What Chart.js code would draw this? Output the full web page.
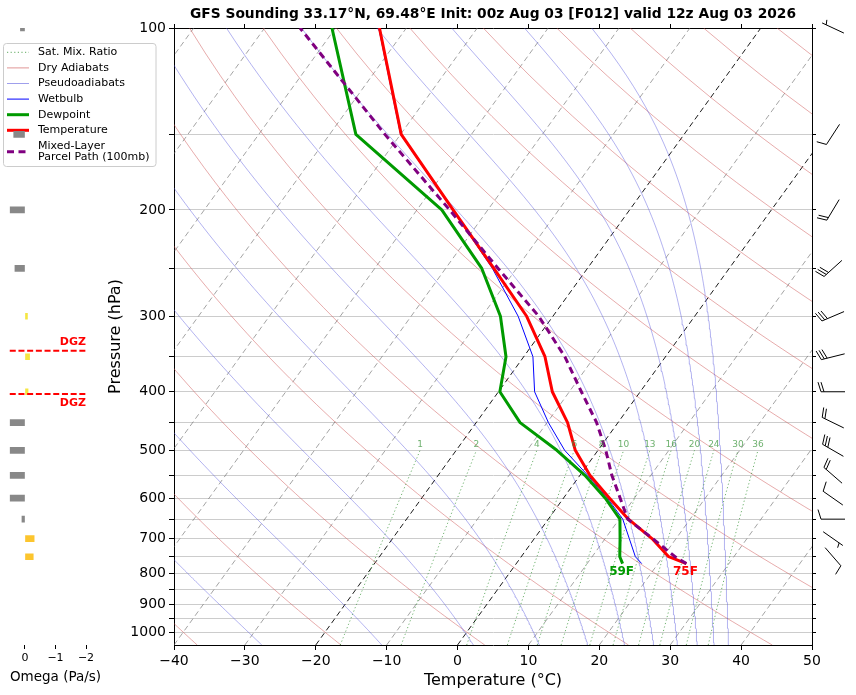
<!DOCTYPE html>
<html>
<head>
<meta charset="utf-8">
<script src="https://cdn.jsdelivr.net/npm/chart.js@4.4.1/dist/chart.umd.min.js"></script>
<style>
html, body { margin: 0; padding: 0; background: #fff; }
#wrap { position: relative; width: 856px; height: 695px; }
#skew, #omega { position: absolute; left: 0; top: 0; }
</style>
</head>
<body>
<div id="wrap">
<canvas id="skew" width="856" height="695"></canvas>
<canvas id="omega" width="110" height="695"></canvas>
</div>
<script>
Chart.defaults.font.family = 'DejaVu Sans';
Chart.defaults.color = '#000';

// sounding, surface first (hPa / degC)
const levels = [770, 750, 700, 650, 600, 550, 500, 450, 400, 350, 300, 250, 200, 150, 100];
const temperature = [24.0, 20.8, 16.6, 11.3, 6.5, 1.4, -3.2, -7.1, -12.4, -17.0, -23.7, -33.2, -44.9, -59.9, -73.8];
const dewpoint = [15.0, 13.9, 12.1, 10.1, 5.9, 0.7, -5.8, -13.8, -19.8, -22.5, -27.4, -34.9, -46.5, -66.3, -80.5];
const wetbulb = [17.7, 16.1, 13.4, 10.5, 6.2, 1.1, -4.7, -9.8, -14.9, -18.7, -24.9, -33.4, -45.0, -60.0, -73.9];
const parcelPath = [24.0, 21.7, 16.7, 11.2, 8.0, 4.5, 1.1, -3.0, -8.3, -14.2, -22.0, -32.6, -45.4, -62.2, -85.0];

// omega panel (Pa/s)
const omegaLevels = [100, 150, 200, 250, 300, 350, 400, 450, 500, 550, 600, 650, 700, 750];
const omega = [0.15, 0.37, 0.5, 0.33, -0.08, -0.15, -0.1, 0.5, 0.5, 0.5, 0.5, 0.1, -0.3, -0.27];

// wind barbs (deg from, knots)
const windLevels = [100, 150, 200, 250, 300, 350, 400, 450, 500, 550, 600, 650, 700, 750];
const windDir = [295, 213, 211, 228, 247, 256, 270, 296, 300, 311, 305, 270, 125, 139];
const windSpeed = [5, 10, 20, 30, 30, 30, 20, 20, 30, 20, 10, 10, 5, 10];

// background line families
const isotherms = [-100, -90, -80, -70, -60, -50, -40, -30, -20, -10, 0, 10, 20, 30, 40, 50];
const dryThetas = [-40, -20, 0, 20, 40, 60, 80, 100, 120, 140, 160, 180, 200, 220, 240];
const pseudoThetaE = [-30, -10, 10, 30, 50, 70, 90, 110, 130, 150, 170];
const mixingRatios = [1, 2, 4, 6, 8, 10, 13, 16, 20, 24, 30, 36];

const tempTicks = [-40, -30, -20, -10, 0, 10, 20, 30, 40, 50];
const pressureTicks = [100, 150, 200, 250, 300, 350, 400, 450, 500, 550, 600, 650, 700, 750, 800, 850, 900, 950, 1000];
const omegaTicks = [0, -1, -2];
const dgzTemps = [-18, -12];
const titleText = 'GFS Sounding 33.17°N, 69.48°E Init: 00z Aug 03 [F012] valid 12z Aug 03 2026';

const P_BOT = 1050, P_TOP = 100, SKEW = 26.7;
const skewX = (t, p) => t + SKEW * Math.log(P_BOT / p);

const GREEN = '#009a00', MIX_COLOR = 'rgba(40,140,40,0.75)';
const DRY_COLOR = 'rgba(205,80,80,0.6)', MOIST_COLOR = 'rgba(80,80,220,0.55)';

const pGrid = [];
for (let p = P_BOT; p >= P_TOP; p -= 10) pGrid.push(p);

// thermodynamics for the adiabats
const Rd = 287.04749, Cp = 1004.6662, Lv = 2.50084e6, EPS = 0.621957;
const satVap = tc => 6.112 * Math.exp(17.67 * tc / (tc + 243.5));
function lapse(p, tk) {
    const es = satVap(tk - 273.15);
    const rs = EPS * es / (p - es);
    return (Rd * tk + Lv * rs) / (Cp + Lv * Lv * rs * EPS / (Rd * tk * tk)) / p;
}
function thetaE1000(tc) {
    const tk = tc + 273.15, es = satVap(tc);
    const r = EPS * es / (1000 - es);
    return tk * Math.exp((3376 / tk - 2.54) * r * (1 + 0.81 * r));
}
function startTemp(thetaEc) {
    const target = thetaEc + 273.15;
    let lo = -90, hi = 60;
    for (let i = 0; i < 60; i++) {
        const mid = (lo + hi) / 2;
        if (thetaE1000(mid) < target) lo = mid; else hi = mid;
    }
    return (lo + hi) / 2;
}
function integrate(t0, pEnd, step) {
    const out = [];
    let p = 1000, tk = t0 + 273.15;
    const n = Math.round((pEnd - 1000) / step);
    for (let i = 0; i < n; i++) {
        const k1 = lapse(p, tk);
        const k2 = lapse(p + step / 2, tk + step / 2 * k1);
        const k3 = lapse(p + step / 2, tk + step / 2 * k2);
        const k4 = lapse(p + step, tk + step * k3);
        tk += step / 6 * (k1 + 2 * k2 + 2 * k3 + k4);
        p += step;
        out.push({ p, t: tk - 273.15 });
    }
    return out;
}
function moistAdiabat(thetaEc) {
    const t0 = startTemp(thetaEc);
    const pts = integrate(t0, P_BOT, 5).reverse();
    pts.push({ p: 1000, t: t0 });
    return pts.concat(integrate(t0, P_TOP, -5)).map(d => ({ x: skewX(d.t, d.p), y: d.p }));
}
function dryAdiabat(t0) {
    return pGrid.map(p => ({ x: skewX((t0 + 273.15) * Math.pow(p / 1000, 0.2857) - 273.15, p), y: p }));
}
function mixingLine(w) {
    const pts = [];
    for (let p = P_BOT; p >= 500; p -= 10) {
        const e = p * (w / 1000) / (0.622 + w / 1000);
        const l = Math.log(e / 6.112);
        pts.push({ x: skewX(243.5 * l / (17.67 - l), p), y: p });
    }
    return pts;
}
const profile = temps => levels.map((p, i) => ({ x: skewX(temps[i], p), y: p }));

function line(data, color, width, dash, order) {
    return {
        data, borderColor: color, borderWidth: width, borderDash: dash || [],
        pointRadius: 0, showLine: true, fill: false, tension: 0, order,
        xAxisID: 'x', yAxisID: 'y', borderJoinStyle: 'round'
    };
}

const datasets = [];
isotherms.forEach(t => {
    const black = t === 0 || t === -20;
    datasets.push(line([{ x: skewX(t, P_BOT), y: P_BOT }, { x: skewX(t, P_TOP), y: P_TOP }],
        black ? '#000' : 'rgba(110,110,110,0.7)', 0.9, [5.5, 3.5], 9));
});
dryThetas.forEach(t => datasets.push(line(dryAdiabat(t), DRY_COLOR, 0.8, [], 8)));
pseudoThetaE.forEach(t => datasets.push(line(moistAdiabat(t), MOIST_COLOR, 0.8, [], 7)));
mixingRatios.forEach(w => datasets.push(line(mixingLine(w), MIX_COLOR, 0.9, [1.2, 2.4], 6)));
datasets.push(line(profile(wetbulb), '#0000ff', 1, [], 3));
datasets.push(line(profile(dewpoint), GREEN, 3, [], 2));
datasets.push(line(profile(temperature), '#ff0000', 3, [], 1));
datasets.push(line(profile(parcelPath), '#800080', 3, [7, 4.5], 0));

const legendItems = [
    { label: ['Sat. Mix. Ratio'], color: MIX_COLOR, width: 1, dash: [1.2, 2.4] },
    { label: ['Dry Adiabats'], color: DRY_COLOR, width: 1, dash: [] },
    { label: ['Pseudoadiabats'], color: MOIST_COLOR, width: 1, dash: [] },
    { label: ['Wetbulb'], color: '#0000ff', width: 1, dash: [] },
    { label: ['Dewpoint'], color: GREEN, width: 3, dash: [] },
    { label: ['Temperature'], color: '#ff0000', width: 3, dash: [] },
    { label: ['Mixed-Layer', 'Parcel Path (100mb)'], color: '#800080', width: 3, dash: [7, 4.5] }
];

function drawBarb(ctx, cx, cy, dir, spd, L) {
    const r = dir * Math.PI / 180;
    const dx = Math.sin(r), dy = -Math.cos(r);
    const nx = -dy, ny = dx;
    const sx = cx - dx * L / 2, sy = cy - dy * L / 2;
    const sp = 0.125 * L, fh = 0.4 * L, fw = 0.25 * L;
    ctx.beginPath();
    ctx.moveTo(sx, sy);
    ctx.lineTo(sx + dx * L, sy + dy * L);
    let off = L;
    const full = Math.floor(spd / 10), half = spd % 10 >= 5;
    for (let i = 0; i < full; i++) {
        const px = sx + dx * off, py = sy + dy * off;
        ctx.moveTo(px, py);
        ctx.lineTo(px + nx * fh + dx * fw / 2, py + ny * fh + dy * fw / 2);
        off -= sp;
    }
    if (half) {
        if (off === L) off -= 1.5 * sp;
        const px = sx + dx * off, py = sy + dy * off;
        ctx.moveTo(px, py);
        ctx.lineTo(px + nx * fh / 2 + dx * fw / 4, py + ny * fh / 2 + dy * fw / 4);
    }
    ctx.stroke();
}

const skewExtras = {
    id: 'skewExtras',
    afterDatasetsDraw(chart) {
        const { ctx, scales: { x, y } } = chart;
        ctx.save();
        // mixing ratio labels at top of the lines
        ctx.font = '9px "DejaVu Sans"';
        ctx.fillStyle = 'rgba(60,150,60,0.75)';
        ctx.textAlign = 'center';
        ctx.textBaseline = 'bottom';
        mixingRatios.forEach(w => {
            const pts = mixingLine(w);
            const top = pts[pts.length - 1];
            ctx.fillText(String(w), x.getPixelForValue(top.x), y.getPixelForValue(top.y) - 1);
        });
        // surface values in F
        ctx.font = 'bold 12px "DejaVu Sans"';
        ctx.textBaseline = 'top';
        const sfc = levels[0];
        [[dewpoint[0], GREEN], [temperature[0], '#ff0000']].forEach(([t, c]) => {
            ctx.fillStyle = c;
            ctx.fillText(Math.round(t * 9 / 5 + 32) + 'F', x.getPixelForValue(skewX(t, sfc)) - 1, y.getPixelForValue(sfc) + 2.5);
        });
        ctx.restore();
    },
    afterDraw(chart) {
        const { ctx, chartArea, scales: { y } } = chart;
        ctx.save();
        // wind barbs
        ctx.strokeStyle = '#000';
        ctx.lineWidth = 1;
        windLevels.forEach((p, i) => drawBarb(ctx, chartArea.right + 21, y.getPixelForValue(p), windDir[i], windSpeed[i], 24));
        // legend
        ctx.beginPath();
        ctx.roundRect(3.5, 43.5, 152.5, 123, 3);
        ctx.fillStyle = 'rgba(255,255,255,0.8)';
        ctx.fill();
        ctx.strokeStyle = '#cccccc';
        ctx.lineWidth = 1;
        ctx.stroke();
        ctx.font = '11px "DejaVu Sans"';
        ctx.textAlign = 'left';
        ctx.textBaseline = 'middle';
        let ly = 52.3;
        const lh = 11.5;
        legendItems.forEach(item => {
            const cy = ly + (item.label.length - 1) * lh / 2;
            ctx.beginPath();
            ctx.strokeStyle = item.color;
            ctx.lineWidth = item.width;
            ctx.setLineDash(item.dash);
            ctx.moveTo(7, cy);
            ctx.lineTo(29, cy);
            ctx.stroke();
            ctx.setLineDash([]);
            ctx.fillStyle = '#000';
            item.label.forEach((t, k) => ctx.fillText(t, 38, ly + k * lh));
            ly += (item.label.length - 1) * lh + 15.6;
        });
        ctx.restore();
    }
};

const setTicks = vals => s => { s.ticks = vals.map(v => ({ value: v })); };
const minus = v => String(v).replace('-', '\u2212');

new Chart(document.getElementById('skew'), {
    type: 'scatter',
    data: { datasets },
    options: {
        responsive: false,
        animation: false,
        events: [],
        layout: { padding: { left: 102, right: 0, top: 0, bottom: 0 } },
        plugins: {
            legend: { display: false },
            tooltip: { enabled: false },
            title: {
                display: true, text: titleText, fullSize: false,
                font: { size: 13.8, weight: 'bold' }, color: '#000',
                padding: { top: 6.5, bottom: 0 }
            }
        },
        scales: {
            x: {
                type: 'linear', position: 'bottom', min: -40, max: 50,
                afterBuildTicks: setTicks(tempTicks),
                afterFit: s => { s.height = 50; },
                ticks: { font: { size: 14 }, padding: 3, autoSkip: false, maxRotation: 0, callback: v => minus(v) },
                grid: { drawOnChartArea: false, drawTicks: true, tickLength: 5, tickColor: '#000' },
                border: { display: true, color: '#000', width: 1 },
                title: { display: true, text: 'Temperature (°C)', font: { size: 16 }, padding: { top: 0, bottom: 4.4 } }
            },
            x2: {
                type: 'linear', position: 'top', min: -40, max: 50,
                afterBuildTicks: setTicks(tempTicks),
                afterFit: s => { s.height = 4.94; },
                ticks: { display: false },
                grid: { drawOnChartArea: false, drawTicks: true, tickLength: 4, tickColor: '#000' },
                border: { display: true, color: '#000', width: 1 }
            },
            y: {
                type: 'logarithmic', position: 'left', min: P_TOP, max: P_BOT, reverse: true,
                afterBuildTicks: setTicks(pressureTicks),
                afterFit: s => { s.width = 72; },
                ticks: { font: { size: 14 }, padding: 3, autoSkip: false, callback: v => (v % 100 === 0 ? String(v) : '') },
                grid: { color: '#cccccc', lineWidth: 1, drawTicks: true, tickLength: 5, tickColor: '#000' },
                border: { display: true, color: '#000', width: 1 },
                title: { display: true, text: 'Pressure (hPa)', font: { size: 16 }, padding: { top: 4, bottom: 0 } }
            },
            y2: {
                type: 'logarithmic', position: 'right', min: P_TOP, max: P_BOT, reverse: true,
                afterBuildTicks: setTicks(pressureTicks),
                afterFit: s => { s.width = 44; },
                ticks: { display: false },
                grid: { drawOnChartArea: false, drawTicks: true, tickLength: 4, tickColor: '#000' },
                border: { display: true, color: '#000', width: 1 }
            }
        }
    },
    plugins: [skewExtras]
});

// dendritic growth zone from the temperature profile
function pressureAtTemp(t) {
    for (let i = 0; i < levels.length - 1; i++) {
        const a = temperature[i], b = temperature[i + 1];
        if ((a - t) * (b - t) <= 0 && a !== b) {
            const f = (t - a) / (b - a);
            return Math.exp(Math.log(levels[i]) + f * (Math.log(levels[i + 1]) - Math.log(levels[i])));
        }
    }
    return null;
}

const dgzPlugin = {
    id: 'dgz',
    afterDatasetsDraw(chart) {
        const { ctx, scales: { x, y } } = chart;
        ctx.save();
        ctx.strokeStyle = '#ff0000';
        ctx.fillStyle = '#ff0000';
        ctx.lineWidth = 2;
        ctx.setLineDash([6, 2.7]);
        ctx.font = 'bold 11px "DejaVu Sans"';
        ctx.textAlign = 'right';
        const x0 = x.getPixelForValue(0.5), x1 = x.getPixelForValue(-2);
        dgzTemps.forEach((t, i) => {
            const p = pressureAtTemp(t);
            if (!p) return;
            const py = y.getPixelForValue(p);
            ctx.beginPath();
            ctx.moveTo(x0, py);
            ctx.lineTo(x1, py);
            ctx.stroke();
            ctx.textBaseline = i === 0 ? 'bottom' : 'top';
            ctx.fillText('DGZ', x1, i === 0 ? py - 3 : py + 4);
        });
        ctx.restore();
    }
};

new Chart(document.getElementById('omega'), {
    type: 'bar',
    data: {
        datasets: [{
            data: omegaLevels.map((p, i) => ({ x: omega[i], y: p })),
            backgroundColor: omega.map(w => (w >= 0 ? '#888888' : (w < -0.2 ? '#fcc52e' : '#f5e642'))),
            borderWidth: 0,
            barThickness: 6,
            clip: 0
        }]
    },
    options: {
        indexAxis: 'y',
        responsive: false,
        animation: false,
        events: [],
        layout: { padding: { left: 9.75, right: 8.75, top: 28, bottom: 0 } },
        plugins: { legend: { display: false }, tooltip: { enabled: false } },
        scales: {
            y: { type: 'logarithmic', min: P_TOP, max: P_BOT, reverse: true, display: false },
            x: {
                type: 'linear', min: -2.5, max: 0.5, reverse: true,
                afterBuildTicks: setTicks(omegaTicks),
                afterFit: s => { s.height = 50; },
                ticks: { font: { size: 11 }, padding: 3, autoSkip: false, maxRotation: 0, callback: v => minus(v) },
                grid: { drawOnChartArea: false, drawTicks: true, tickLength: 4, tickColor: '#000' },
                border: { display: false },
                title: { display: true, text: 'Omega (Pa/s)', font: { size: 13.5 }, padding: { top: 0, bottom: 9 } }
            }
        }
    },
    plugins: [dgzPlugin]
});
</script>
</body>
</html>
